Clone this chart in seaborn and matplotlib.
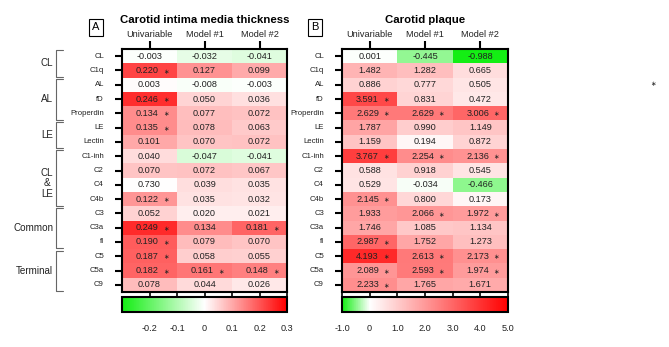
import numpy as np
import pandas as pd
import matplotlib
matplotlib.use("Agg")
import matplotlib.pyplot as plt
import seaborn as sns
from matplotlib.colors import LinearSegmentedColormap, Normalize
from matplotlib.lines import Line2D
from matplotlib.transforms import blended_transform_factory

# ---------------- data ----------------
rows = ["CL", "C1q", "AL", "fD", "Properdin", "LE", "Lectin", "C1-inh", "C2", "C4",
        "C4b", "C3", "C3a", "fI", "C5", "C5a", "C9"]
columns = ["Univariable", "Model #1", "Model #2"]
group_names = ["CL", "AL", "LE", "CL\n&\nLE", "Common", "Terminal"]
group_sizes = [2, 3, 2, 4, 3, 3]

# Carotid intima media thickness
cimt_univariable = [-0.003, 0.220, 0.003, 0.246, 0.134, 0.135, 0.101, 0.040, 0.070, 0.730,
                    0.122, 0.052, 0.249, 0.190, 0.187, 0.182, 0.078]
cimt_model1 = [-0.032, 0.127, -0.008, 0.050, 0.077, 0.078, 0.070, -0.047, 0.072, 0.039,
               0.035, 0.020, 0.134, 0.079, 0.058, 0.161, 0.044]
cimt_model2 = [-0.041, 0.099, -0.003, 0.036, 0.072, 0.063, 0.072, -0.041, 0.067, 0.035,
               0.032, 0.021, 0.181, 0.070, 0.055, 0.148, 0.026]
cimt_sig_univariable = [0, 1, 0, 1, 1, 1, 0, 0, 0, 0, 1, 0, 1, 1, 1, 1, 0]
cimt_sig_model1 = [0, 0, 0, 0, 0, 0, 0, 0, 0, 0, 0, 0, 0, 0, 0, 1, 0]
cimt_sig_model2 = [0, 0, 0, 0, 0, 0, 0, 0, 0, 0, 0, 0, 1, 0, 0, 1, 0]
# in the source the printed 0.730 (C4, univariable) is shaded as a ~0 value
cimt_shade_override = {("C4", "Univariable"): 0.0}

# Carotid plaque
plaque_univariable = [0.001, 1.482, 0.886, 3.591, 2.629, 1.787, 1.159, 3.767, 0.588, 0.529,
                      2.145, 1.933, 1.746, 2.987, 4.193, 2.089, 2.233]
plaque_model1 = [-0.445, 1.282, 0.777, 0.831, 2.629, 0.990, 0.194, 2.254, 0.918, -0.034,
                 0.800, 2.066, 1.085, 1.752, 2.613, 2.593, 1.765]
plaque_model2 = [-0.988, 0.665, 0.505, 0.472, 3.006, 1.149, 0.872, 2.136, 0.545, -0.466,
                 0.173, 1.972, 1.134, 1.273, 2.173, 1.974, 1.671]
plaque_sig_univariable = [0, 0, 0, 1, 1, 0, 0, 1, 0, 0, 1, 0, 0, 1, 1, 1, 1]
plaque_sig_model1 = [0, 0, 0, 0, 1, 0, 0, 1, 0, 0, 0, 1, 0, 0, 1, 1, 0]
plaque_sig_model2 = [0, 0, 0, 0, 1, 0, 0, 1, 0, 0, 0, 1, 0, 0, 1, 1, 0]

cimt_ticks = [-0.2, -0.1, 0, 0.1, 0.2, 0.3]
cimt_ticklabels = ["-0.2", "-0.1", "0", "0.1", "0.2", "0.3"]
plaque_ticks = [-1, 0, 1, 2, 3, 4, 5]
plaque_ticklabels = ["-1.0", "0", "1.0", "2.0", "3.0", "4.0", "5.0"]

# ---------------- style ----------------
sns.set_style("white")
plt.rcParams["font.family"] = ["Liberation Sans", "DejaVu Sans"]
TXT = "#222222"

W, H = 669, 347
fig = plt.figure(figsize=(W / 100, H / 100), dpi=100)


def fx(px):
    return px / W


def fy(py):
    return 1 - py / H


def make_frames(vals, override=None):
    df = pd.DataFrame(dict(zip(columns, vals)), index=rows)
    lab = pd.DataFrame({c: [f"{v:.3f}" for v in vs] for c, vs in zip(columns, vals)},
                       index=rows)
    shade = df.copy()
    if override:
        for (r, c), v in override.items():
            shade.loc[r, c] = v
    return shade, lab


green = "#14ee14"
cmap_a = LinearSegmentedColormap.from_list("a", [(0, green), (0.5, "white"), (1, "#ff0000")])
cmap_b = LinearSegmentedColormap.from_list("b", [(0, green), (1 / 6, "white"), (1, "#ff0000")])

hm_top, hm_bot = 49, 292
cb_top, cb_bot = 297, 312
panels = [
    dict(left=122, right=287, vals=[cimt_univariable, cimt_model1, cimt_model2],
         sigs=[cimt_sig_univariable, cimt_sig_model1, cimt_sig_model2],
         override=cimt_shade_override, cmap=cmap_a, norm=Normalize(-0.3, 0.3),
         ticks=cimt_ticks, ticklabels=cimt_ticklabels,
         title="Carotid intima media thickness", letter="A", letter_x=96),
    dict(left=342, right=508, vals=[plaque_univariable, plaque_model1, plaque_model2],
         sigs=[plaque_sig_univariable, plaque_sig_model1, plaque_sig_model2],
         override=None, cmap=cmap_b, norm=Normalize(-1, 5),
         ticks=plaque_ticks, ticklabels=plaque_ticklabels,
         title="Carotid plaque", letter="B", letter_x=315),
]

axes = []
for p in panels:
    ax = fig.add_axes([fx(p["left"]), fy(hm_bot), fx(p["right"] - p["left"]),
                       (hm_bot - hm_top) / H])
    cax = fig.add_axes([fx(p["left"]), fy(cb_bot), fx(p["right"] - p["left"]),
                        (cb_bot - cb_top) / H])
    shade, lab = make_frames(p["vals"], p["override"])
    sns.heatmap(shade, annot=lab, fmt="", cmap=p["cmap"], norm=p["norm"], ax=ax,
                xticklabels=columns, yticklabels=rows,
                cbar_ax=cax, cbar_kws={"orientation": "horizontal"},
                annot_kws={"fontsize": 6.6, "color": TXT})
    # shift starred values slightly left and add the small significance star
    texts = ax.texts
    k = 0
    for j, sig_col in enumerate(p["sigs"]):
        pass
    for t in texts:
        x, y = t.get_position()
        j = int(x)
        i = int(y)
        if p["sigs"][j][i]:
            t.set_x(x - 0.04)
            ax.text(j + 0.79, y + 0.08, "\u2217", ha="center", va="center",
                    fontsize=4.8, color=TXT, family="DejaVu Sans")
    for s in ax.spines.values():
        s.set_visible(True)
        s.set_linewidth(1.5)
        s.set_color("black")
    ax.xaxis.tick_top()
    for t in ax.get_xticklabels():
        t.set_rotation(0)
        t.set_fontsize(6.6)
        t.set_color(TXT)
    for t in ax.get_yticklabels():
        t.set_rotation(0)
        t.set_fontsize(5.6)
        t.set_color(TXT)
    ax.tick_params(axis="x", top=True, bottom=False, labeltop=True, labelbottom=False,
                   length=5.5, width=1.5, pad=1.5, color="black")
    ax.tick_params(axis="y", left=True, length=5, width=1.5, pad=8, color="black")
    ax.set_xlabel("")
    ax.set_ylabel("")

    cb = ax.collections[0].colorbar
    cb.set_ticks(p["ticks"])
    cb.set_ticklabels(p["ticklabels"])
    cb.outline.set_linewidth(1.5)
    cb.outline.set_edgecolor("black")
    cax.tick_params(axis="x", top=True, bottom=False, labeltop=False, labelbottom=True,
                    length=3.5, width=1.2, pad=5, labelsize=6.6, labelcolor=TXT,
                    direction="out", color="black")

    fig.text(fx((p["left"] + p["right"]) / 2), fy(20), p["title"], ha="center",
             va="center", fontsize=8.2, fontweight="bold", color="black")
    fig.text(fx(p["letter_x"]), fy(27.5), p["letter"], ha="center", va="center",
             fontsize=8, color="black",
             bbox=dict(boxstyle="square,pad=0.3", fc="white", ec="black", lw=0.8))
    axes.append(ax)

# group brackets on the left of panel A
axA = axes[0]
tr = blended_transform_factory(fig.transFigure, axA.transData)
start = 0
for name, n in zip(group_names, group_sizes):
    y0 = start + 0.1
    y1 = start + n - 0.05
    xs = [fx(63), fx(56), fx(56), fx(63)]
    ys = [y0, y0, y1, y1]
    fig.add_artist(Line2D(xs, ys, transform=tr, color="#666666", lw=0.8))
    yc = start + n / 2
    if "\n" in name:
        yc += 0.4
    fig.text(fx(53), yc, name, transform=tr, ha="right", va="center",
             multialignment="center", fontsize=7.1, color=TXT, linespacing=1.05)
    start += n

fig.text(fx(653), fy(84), "\u2217", ha="center", va="center", fontsize=4.8,
         color=TXT, family="DejaVu Sans")

fig.savefig("out.png", dpi=100)
